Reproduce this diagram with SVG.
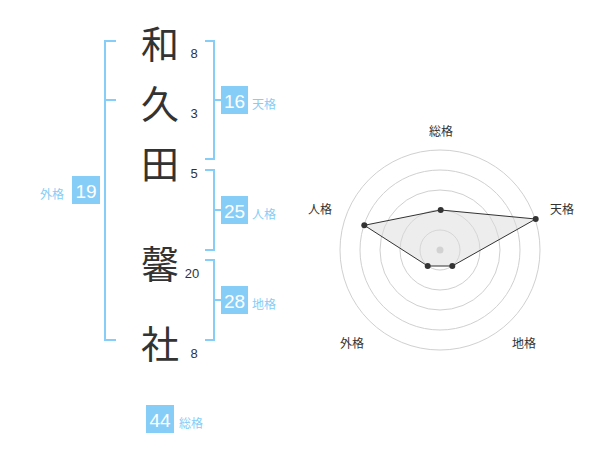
<svg xmlns="http://www.w3.org/2000/svg" width="600" height="470" viewBox="0 0 600 470">
<style>
.kanji{font-family:"Noto Sans CJK JP","Noto Sans CJK SC",sans-serif;font-size:38px;fill:#333;text-anchor:middle;dominant-baseline:central}
.num{font-family:"Liberation Sans",Arial,sans-serif;font-size:13px;fill:#333;text-anchor:middle;dominant-baseline:central}
.br{fill:none;stroke:#86cdf7;stroke-width:2}
.box{fill:#86cdf7}
.bt{font-family:"Liberation Sans",Arial,sans-serif;font-size:19px;fill:#fff;text-anchor:middle;dominant-baseline:central}
.lb{font-family:"Noto Sans CJK JP",sans-serif;font-size:12px;fill:#86cdf7;dominant-baseline:central}
.ring{fill:none;stroke:#d0d0d0;stroke-width:1}
.ax{font-family:"Noto Sans CJK JP",sans-serif;font-size:12px;fill:#333;text-anchor:middle;dominant-baseline:central}
.pt{fill:#333}
</style>
<g id="chars">
<g id="c1"><text class="kanji" x="160" y="41">和</text><text class="num" x="194" y="53">8</text></g>
<g id="c2"><text class="kanji" x="160" y="101">久</text><text class="num" x="194" y="113">3</text></g>
<g id="c3"><text class="kanji" x="160" y="161">田</text><text class="num" x="194" y="173">5</text></g>
<g id="c4"><text class="kanji" x="160" y="261">馨</text><text class="num" x="192" y="273">20</text></g>
<g id="c5"><text class="kanji" x="160" y="341">社</text><text class="num" x="194" y="353">8</text></g>
</g>
<g id="connectors">
<path class="br" d="M116,41 H105 V340 H116 M105,100 H116"/>
<path class="br" d="M205,41 H214 V159 H205 M214,100 H222"/>
<path class="br" d="M205,170 H214 V250 H205 M214,210 H222"/>
<path class="br" d="M205,260 H214 V340 H205 M214,300 H222"/>
</g>
<g id="tenkaku"><rect class="box" x="221" y="86" width="27" height="28"/><text class="bt" x="234.5" y="101">16</text><text class="lb" x="252" y="103">天格</text></g>
<g id="jinkaku"><rect class="box" x="221" y="196" width="27" height="28"/><text class="bt" x="234.5" y="211">25</text><text class="lb" x="252" y="213">人格</text></g>
<g id="chikaku"><rect class="box" x="221" y="286" width="27" height="28"/><text class="bt" x="234.5" y="301">28</text><text class="lb" x="252" y="303">地格</text></g>
<g id="gaikaku"><rect class="box" x="72" y="176" width="28" height="28"/><text class="bt" x="86" y="191">19</text><text class="lb" x="40" y="193">外格</text></g>
<g id="soukaku"><rect class="box" x="146" y="405" width="28" height="28"/><text class="bt" x="160" y="420">44</text><text class="lb" x="179" y="422">総格</text></g>
<g id="radar">
<circle class="ring" cx="440" cy="250" r="20"/>
<circle class="ring" cx="440" cy="250" r="40"/>
<circle class="ring" cx="440" cy="250" r="60"/>
<circle class="ring" cx="440" cy="250" r="80"/>
<circle class="ring" cx="440" cy="250" r="100"/>
<circle cx="440" cy="250" r="3.5" fill="#c8c8c8"/>
<polygon points="440.7,210 535.7,219 452.3,266 427.7,266 364.3,225.3" fill="#dcdcdc" fill-opacity="0.5" stroke="#333" stroke-width="1"/>
<circle class="pt" cx="440.7" cy="210" r="3"/>
<circle class="pt" cx="535.7" cy="219" r="3"/>
<circle class="pt" cx="452.3" cy="266" r="3"/>
<circle class="pt" cx="427.7" cy="266" r="3"/>
<circle class="pt" cx="364.3" cy="225.3" r="3"/>
<text class="ax" x="441" y="130">総格</text>
<text class="ax" x="562" y="208">天格</text>
<text class="ax" x="320" y="208">人格</text>
<text class="ax" x="352" y="342">外格</text>
<text class="ax" x="524" y="342">地格</text>
</g>
</svg>
